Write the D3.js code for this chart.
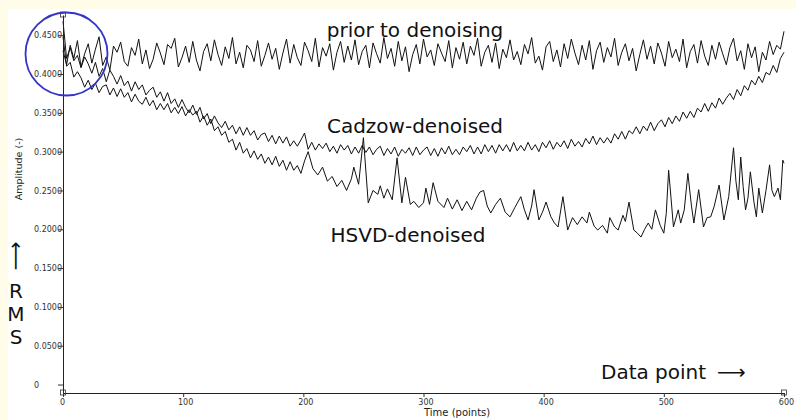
<!DOCTYPE html>
<html><head><meta charset="utf-8">
<script src="https://cdn.jsdelivr.net/npm/d3@7/dist/d3.min.js"></script>
<style>html,body{margin:0;padding:0;background:#fffde9;overflow:hidden}svg{display:block}</style>
</head><body>
<svg id="chart" width="796" height="420"></svg>
<script>
// ---------------- DATA ----------------
// sampling grid (time points) shared by the prior and Cadzow traces
const timePoints = d3.range(0, 601, 3);

const priorValues = [
0.430,0.412,0.437,0.420,0.443,0.409,0.426,0.439,0.414,0.432,
0.448,0.411,0.422,0.405,0.436,0.428,0.441,0.416,0.410,0.434,
0.424,0.445,0.413,0.431,0.407,0.419,0.440,0.427,0.412,0.438,
0.433,0.446,0.409,0.421,0.436,0.415,0.442,0.418,0.404,0.429,
0.439,0.417,0.444,0.425,0.411,0.435,0.420,0.447,0.413,0.428,
0.408,0.437,0.431,0.416,0.443,0.410,0.424,0.440,0.419,0.433,
0.406,0.427,0.445,0.414,0.438,0.421,0.411,0.441,0.430,0.416,
0.446,0.409,0.434,0.423,0.439,0.405,0.428,0.442,0.415,0.436,
0.418,0.444,0.412,0.429,0.437,0.408,0.440,0.426,0.414,0.447,
0.420,0.433,0.410,0.442,0.417,0.435,0.403,0.425,0.438,0.413,
0.445,0.422,0.431,0.411,0.439,0.427,0.416,0.443,0.408,0.434,
0.419,0.441,0.413,0.436,0.424,0.446,0.410,0.428,0.437,0.415,
0.440,0.407,0.432,0.421,0.444,0.418,0.429,0.412,0.438,0.426,
0.447,0.414,0.423,0.405,0.435,0.442,0.416,0.431,0.409,0.439,
0.420,0.445,0.427,0.412,0.437,0.418,0.443,0.406,0.430,0.441,
0.415,0.434,0.422,0.446,0.411,0.428,0.439,0.417,0.433,0.404,
0.425,0.444,0.419,0.436,0.413,0.440,0.427,0.410,0.442,0.421,
0.432,0.416,0.445,0.408,0.429,0.438,0.414,0.443,0.423,0.411,
0.437,0.419,0.441,0.426,0.412,0.434,0.446,0.417,0.430,0.406,
0.439,0.421,0.435,0.403,0.428,0.418,0.442,0.425,0.437,0.432,
0.455];

const cadzowValues = [
0.468,0.420,0.434,0.417,0.424,0.408,0.422,0.413,0.401,0.415,
0.397,0.407,0.390,0.405,0.397,0.387,0.398,0.385,0.391,0.378,
0.390,0.380,0.386,0.373,0.379,0.383,0.370,0.377,0.365,0.376,
0.362,0.368,0.357,0.367,0.357,0.350,0.360,0.348,0.357,0.342,
0.349,0.336,0.346,0.337,0.331,0.339,0.328,0.334,0.323,0.332,
0.321,0.331,0.321,0.327,0.315,0.322,0.324,0.313,0.321,0.310,
0.320,0.311,0.319,0.307,0.314,0.307,0.315,0.324,0.303,0.312,
0.302,0.310,0.304,0.311,0.300,0.307,0.298,0.309,0.302,0.308,
0.297,0.306,0.298,0.308,0.299,0.306,0.296,0.303,0.307,0.295,
0.304,0.297,0.306,0.294,0.303,0.298,0.305,0.295,0.306,0.296,
0.302,0.306,0.295,0.304,0.294,0.305,0.297,0.307,0.296,0.303,
0.296,0.306,0.300,0.308,0.297,0.306,0.297,0.309,0.300,0.308,
0.298,0.309,0.301,0.309,0.300,0.312,0.301,0.308,0.301,0.312,
0.302,0.309,0.300,0.312,0.305,0.314,0.303,0.312,0.306,0.314,
0.304,0.316,0.307,0.313,0.306,0.317,0.310,0.320,0.309,0.318,
0.311,0.318,0.311,0.323,0.316,0.326,0.316,0.327,0.323,0.332,
0.323,0.333,0.327,0.338,0.327,0.336,0.341,0.332,0.344,0.336,
0.346,0.339,0.351,0.343,0.352,0.344,0.356,0.351,0.362,0.352,
0.363,0.356,0.369,0.361,0.369,0.375,0.367,0.380,0.372,0.385,
0.379,0.392,0.386,0.397,0.389,0.402,0.399,0.411,0.402,0.420,
0.428];

const hsvdTime = [
0,3,6,9,12,15,18,21,24,27,30,33,36,39,42,45,48,51,54,57,
60,63,66,69,72,75,78,81,84,87,90,93,96,99,102,105,108,111,114,117,
120,123,126,129,132,135,138,141,144,147,150,153,156,159,162,165,168,171,174,177,
180,183,186,189,192,195,198,201,204,208,212,216,220,224,228,232,236,
240,242,246,250,254,258,262,264,267,270,274,278,282,285,289,292,296,300,302,305,
308,312,317,320,324,328,332,336,340,344,347,350,353,356,360,364,368,372,376,381,
384,387,390,392,396,399,402,406,409,412,416,420,424,428,432,436,438,442,445,449,
453,455,459,462,466,468,471,475,478,481,484,487,490,493,497,500,502,504,506,508,
512,514,517,520,523,525,529,533,536,539,542,546,550,554,558,560,562,564,566,568,
570,572,575,577,579,582,585,588,590,592,595,597,599,600];

const hsvdValues = [
0.448,0.410,0.415,0.396,0.403,0.395,0.383,0.392,0.380,0.388,0.376,0.384,0.386,0.373,0.382,0.371,0.381,0.370,0.376,0.364,
0.374,0.365,0.361,0.370,0.359,0.366,0.354,0.362,0.354,0.362,0.350,0.357,0.349,0.358,0.346,0.354,0.347,0.352,0.338,0.346,
0.334,0.342,0.327,0.332,0.321,0.326,0.312,0.316,0.302,0.312,0.298,0.304,0.292,0.301,0.290,0.297,0.285,0.293,0.283,0.294,
0.281,0.289,0.276,0.287,0.276,0.282,0.272,0.288,0.300,0.278,0.270,0.280,0.262,0.268,0.255,0.263,0.250,
0.265,0.280,0.258,0.318,0.234,0.250,0.245,0.256,0.240,0.252,0.238,0.292,0.234,0.267,0.232,0.236,0.228,0.234,0.253,0.232,
0.260,0.236,0.228,0.240,0.226,0.238,0.224,0.236,0.225,0.240,0.248,0.250,0.230,0.221,0.232,0.240,0.222,0.216,0.228,0.242,
0.225,0.212,0.230,0.251,0.212,0.222,0.235,0.216,0.208,0.203,0.242,0.199,0.215,0.206,0.216,0.208,0.222,0.204,0.199,0.205,
0.195,0.215,0.203,0.199,0.218,0.210,0.235,0.199,0.195,0.190,0.200,0.208,0.200,0.225,0.205,0.195,0.220,0.276,0.240,0.203,
0.225,0.208,0.225,0.272,0.230,0.208,0.251,0.203,0.215,0.216,0.230,0.257,0.212,0.242,0.305,0.262,0.238,0.293,0.255,0.225,
0.240,0.274,0.235,0.216,0.253,0.221,0.250,0.283,0.250,0.242,0.253,0.238,0.289,0.285];

const xTickValues = [0, 100, 200, 300, 400, 500, 600];
const xTickLabels = ["0", "100", "200", "300", "400", "500", "600"];
const yTickValues = [0, 0.05, 0.10, 0.15, 0.20, 0.25, 0.30, 0.35, 0.40, 0.45];
const yTickLabels = ["0", "0.0500", "0.1000", "0.1500", "0.2000", "0.2500", "0.3000", "0.3500", "0.4000", "0.4500"];
const xDomain = [0, 600];
const yDomain = [-0.0109, 0.476];

const seriesLabels = ["prior to denoising", "Cadzow-denoised", "HSVD-denoised"];
const xAxisTitle = "Time (points)";
const yAxisTitle = "Amplitude (-)";
const xNote = "Data point";
const arrowGlyph = "\u27F6";
const yNoteLetters = ["R", "M", "S"];

// ---------------- DRAW ----------------
const svg = d3.select("#chart");
const FONT = "DejaVu Sans, sans-serif";

svg.append("rect").attr("x", 8).attr("y", 9).attr("width", 788).attr("height", 411).attr("fill", "#ffffff");

const x = d3.scaleLinear().domain(xDomain).range([63, 784]);
const y = d3.scaleLinear().domain(yDomain).range([393, 15]);

const line = d3.line().x(d => x(d[0])).y(d => y(d[1]));

const series = [
  timePoints.map((t, i) => [t, priorValues[i]]),
  timePoints.map((t, i) => [t, cadzowValues[i]]),
  hsvdTime.map((t, i) => [t, hsvdValues[i]])
];
svg.append("g").selectAll("path").data(series).join("path")
  .attr("d", line).attr("fill", "none").attr("stroke", "#111")
  .attr("stroke-width", 1).attr("stroke-linejoin", "round");

// y axis
const yAx = svg.append("g").attr("transform", `translate(${x(0)},0)`)
  .call(d3.axisLeft(y).tickValues(yTickValues).tickSize(5).tickSizeOuter(0)
    .tickFormat((d, i) => yTickLabels[i]));
yAx.select(".domain").attr("stroke", "#222");
yAx.selectAll(".tick line").attr("stroke", "#333");
yAx.selectAll(".tick text").attr("x", 34 - 63).attr("text-anchor", "start")
  .attr("font-family", FONT).attr("font-size", 8).attr("fill", "#333");

// x axis
const xAx = svg.append("g").attr("transform", `translate(0,${y(yDomain[0])})`)
  .call(d3.axisBottom(x).tickValues(xTickValues).tickSize(4).tickSizeOuter(0)
    .tickFormat((d, i) => xTickLabels[i]));
xAx.select(".domain").attr("stroke", "#222");
xAx.selectAll(".tick line").attr("stroke", "#333");
xAx.selectAll(".tick text").attr("dx", (d, i) => i === 0 ? -1 : 2).attr("y", 6)
  .attr("font-family", FONT).attr("font-size", 8).attr("fill", "#333");

// axis end markers
const ends = [[x(0), y(yDomain[1])], [x(0), y(yDomain[0])], [x(xDomain[1]), y(yDomain[0])]];
svg.append("g").selectAll("rect").data(ends).join("rect")
  .attr("x", d => d[0] - 2.5).attr("y", d => d[1] - 3).attr("width", 5).attr("height", 5)
  .attr("fill", "none").attr("stroke", "#333").attr("stroke-width", 0.8);

// axis titles
svg.append("text").attr("x", 424).attr("y", 416).attr("font-family", FONT)
  .attr("font-size", 10).attr("fill", "#222").text(xAxisTitle);
svg.append("text").attr("transform", "translate(22,169) rotate(-90)").attr("text-anchor", "middle")
  .attr("font-family", FONT).attr("font-size", 9.5).attr("fill", "#222").text(yAxisTitle);

// series annotations
const annPos = [[415, 37], [415, 133], [408, 242]];
svg.append("g").selectAll("text").data(seriesLabels).join("text")
  .attr("x", (d, i) => annPos[i][0]).attr("y", (d, i) => annPos[i][1])
  .attr("text-anchor", "middle").attr("font-family", FONT).attr("font-size", 20)
  .attr("fill", "#111").text(d => d);

svg.append("text").attr("x", 601).attr("y", 379).attr("font-family", FONT)
  .attr("font-size", 20).attr("fill", "#111").text(xNote);
svg.append("text").attr("x", 717).attr("y", 379).attr("font-family", FONT)
  .attr("font-size", 20).attr("fill", "#111").text(arrowGlyph);

// vertical "RMS" note with arrow
svg.append("text").attr("transform", "translate(22,256) rotate(-90)").attr("text-anchor", "middle")
  .attr("font-family", FONT).attr("font-size", 20).attr("fill", "#111").text(arrowGlyph);
const noteY = [298, 321, 344];
svg.append("g").selectAll("text").data(yNoteLetters).join("text")
  .attr("x", 16).attr("y", (d, i) => noteY[i]).attr("text-anchor", "middle")
  .attr("font-family", FONT).attr("font-size", 20).attr("fill", "#111").text(d => d);

// highlight circle
svg.append("ellipse").attr("cx", 66.5).attr("cy", 54).attr("rx", 41).attr("ry", 41.5)
  .attr("fill", "none").attr("stroke", "#3434c8").attr("stroke-width", 1.8);
</script>
</body></html>
